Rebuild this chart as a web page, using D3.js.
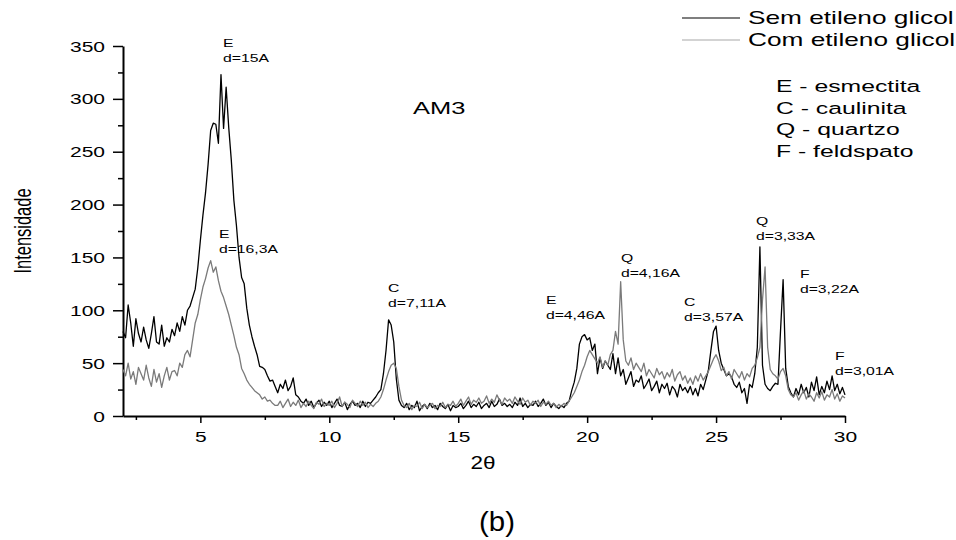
<!DOCTYPE html>
<html>
<head>
<meta charset="utf-8">
<script src="https://cdn.jsdelivr.net/npm/d3@7"></script>
<style>
  body { margin: 0; background: #fff; }
  text { font-family: Arial, "Liberation Sans", sans-serif; fill: #000; }
</style>
</head>
<body>
<div id="chart-area"></div>
<script>
// 2-theta sampling of the two patterns
const thetaStart = 2;
const thetaStep = 0.1;

// Sem etileno glicol (black), one value per 0.1 deg from 2.0 to 30.0
const semEtileno = [
  80, 74, 105, 88, 66, 92, 78, 70, 84, 72,
  64, 78, 94, 70, 68, 86, 66, 74, 70, 82,
  76, 88, 80, 94, 86, 100, 104, 112, 120, 140,
  166, 190, 211, 238, 270, 277, 276, 258, 323, 272,
  311, 273, 242, 204, 180, 150, 131, 125, 102, 86,
  75, 66, 58, 47, 46, 44, 38, 33, 34, 28,
  22, 30, 26, 34, 24, 28, 36, 20, 18, 14,
  12, 16, 10, 14, 8, 12, 15, 9, 13, 10,
  14, 8, 12, 16, 10, 9, 13, 6, 11, 14,
  10, 12, 8, 14, 9, 13, 12, 15, 18, 22,
  25, 40, 62, 91, 86, 70, 35, 15, 10, 8,
  12, 6, 10, 8, 14, 5, 9, 11, 7, 12,
  8, 10, 6, 12, 9, 7, 11, 5, 10, 8,
  9, 12, 7, 10, 14, 8, 11, 9, 13, 7,
  10, 12, 8, 14, 9, 11, 16, 10, 12, 9,
  11, 8, 13, 10, 17, 9, 12, 8, 11, 10,
  14, 9, 12, 16, 10, 13, 8, 12, 9, 7,
  10, 8, 12, 14, 24, 32, 45, 68, 75, 77,
  72, 74, 62, 68, 40, 55, 45, 52, 48, 44,
  59, 40, 55, 38, 44, 30, 36, 42, 28, 34,
  32, 38, 26, 30, 35, 24, 28, 33, 22, 30,
  26, 31, 20, 28, 25, 18, 30, 24, 27, 22,
  28, 20, 26, 19, 30, 25, 34, 43, 62, 80,
  85, 62, 50, 44, 38, 40, 37, 30, 27, 32,
  22, 26, 12, 30, 27, 40, 65, 160, 48, 30,
  26, 24, 28, 31, 30, 81, 129, 45, 28, 22,
  18, 26, 20, 30, 22, 27, 18, 32, 24, 37,
  20, 28, 22, 33, 25, 38, 24, 30, 21, 27,
  20
];

// Com etileno glicol (gray)
const comEtileno = [
  44, 38, 50, 35, 42, 30, 46, 40, 34, 48,
  36, 28, 44, 32, 40, 27, 38, 46, 34, 42,
  43, 38, 50, 46, 58, 62, 56, 72, 88, 96,
  110, 122, 130, 140, 147, 136, 141, 128, 118, 112,
  104, 96, 86, 76, 65, 58, 45, 40, 34, 30,
  27, 24, 22, 20, 16, 18, 14, 15, 12, 10,
  10, 14, 8, 12, 16, 9, 13, 10, 15, 8,
  12, 9, 14, 10, 7, 13, 11, 16, 9, 12,
  10, 14, 8, 12, 18, 9, 13, 11, 8, 15,
  12, 9, 14, 10, 13, 8, 11, 9, 12, 14,
  18, 25, 34, 42, 48, 50, 45, 28, 15, 10,
  8, 12, 6, 10, 9, 13, 7, 11, 8, 10,
  12, 7, 10, 9, 13, 8, 11, 10, 14, 9,
  12, 16, 10, 14, 18, 11, 15, 13, 17, 12,
  14, 19, 12, 16, 13, 20, 15, 11, 17, 14,
  16, 12, 18, 14, 11, 17, 13, 15, 10, 14,
  12, 15, 9, 13, 11, 14, 10, 12, 8, 11,
  9, 12, 10, 14, 18, 22, 28, 34, 42, 48,
  56, 62, 58, 54, 50, 56, 46, 52, 48, 58,
  62, 80, 68, 127, 72, 52, 48, 55, 44, 50,
  46, 42, 50, 38, 44, 40, 36, 45, 39, 42,
  35, 41, 37, 44, 33, 39, 42, 34, 38, 31,
  36, 30, 38, 33, 40, 34, 38, 42, 48, 54,
  58, 52, 43, 46, 38, 42, 35, 44, 40, 36,
  42, 34, 40, 37, 45, 48, 55, 65, 110, 141,
  65, 44, 40, 38, 35, 42, 45, 38, 25, 20,
  18, 22, 15, 20, 24, 16, 21, 18, 14, 22,
  17, 23, 15, 20, 18, 25, 16, 21, 14, 19,
  17
];

const seriesNames = ['Sem etileno glicol', 'Com etileno glicol'];
const xMajorTicks = [5, 10, 15, 20, 25, 30];
const xMinorTicks = [2.5, 7.5, 12.5, 17.5, 22.5, 27.5];
const yMajorTicks = [0, 50, 100, 150, 200, 250, 300, 350];
const yMinorTicks = [25, 75, 125, 175, 225, 275, 325];
const mineralKey = ['E - esmectita', 'C - caulinita', 'Q - quartzo', 'F - feldspato'];

// peak labels: mineral, spacing, anchor (2theta, intensity)
const peakLabels = [
  { m: 'E', d: 'd=15A', t: 5.88, v: 349 },
  { m: 'E', d: 'd=16,3A', t: 5.72, v: 168 },
  { m: 'C', d: 'd=7,11A', t: 12.28, v: 117 },
  { m: 'E', d: 'd=4,46A', t: 18.40, v: 106 },
  { m: 'Q', d: 'd=4,16A', t: 21.31, v: 146 },
  { m: 'C', d: 'd=3,57A', t: 23.76, v: 104 },
  { m: 'Q', d: 'd=3,33A', t: 26.55, v: 181 },
  { m: 'F', d: 'd=3,22A', t: 28.25, v: 131 },
  { m: 'F', d: 'd=3,01A', t: 29.61, v: 53 }
];

// the figure text is stretched sideways
const SX = 1.5;
const stretch = (x, y, s = SX) => `translate(${x},${y}) scale(${s},1)`;

const width = 956, height = 540;
const x = d3.scaleLinear().domain([2, 30]).range([123, 845]);
const y = d3.scaleLinear().domain([0, 350]).range([416, 46]);

const svg = d3.select('#chart-area')
  .append('svg')
  .attr('width', width)
  .attr('height', height);

// axes
const xAxis = svg.append('g')
  .attr('transform', 'translate(0,' + y(0) + ')')
  .call(d3.axisBottom(x).tickValues(xMajorTicks).tickSize(7).tickSizeOuter(0));
svg.append('g')
  .attr('transform', 'translate(0,' + y(0) + ')')
  .call(d3.axisBottom(x).tickValues(xMinorTicks).tickSize(4).tickSizeOuter(0).tickFormat(''))
  .select('.domain').remove();

const yAxis = svg.append('g')
  .attr('transform', 'translate(' + x(2) + ',0)')
  .call(d3.axisLeft(y).tickValues(yMajorTicks).tickSize(10).tickSizeOuter(0));
svg.append('g')
  .attr('transform', 'translate(' + x(2) + ',0)')
  .call(d3.axisLeft(y).tickValues(yMinorTicks).tickSize(5).tickSizeOuter(0).tickFormat(''))
  .select('.domain').remove();

svg.selectAll('.domain').attr('stroke', '#000').attr('stroke-width', 2);
svg.selectAll('.tick line').attr('stroke', '#000').attr('stroke-width', 1.5);

xAxis.selectAll('.tick text')
  .attr('x', null).attr('y', null).attr('dy', null)
  .attr('transform', stretch(0, 26))
  .style('font-size', '14px')
  .style('font-family', 'Arial, "Liberation Sans", sans-serif');

yAxis.selectAll('.tick text')
  .attr('x', null).attr('dy', null)
  .attr('transform', stretch(-18, 5))
  .style('font-size', '14px')
  .style('font-family', 'Arial, "Liberation Sans", sans-serif');

// curves
const line = d3.line()
  .x((d, i) => x(thetaStart + i * thetaStep))
  .y(d => y(d));

svg.append('path')
  .datum(semEtileno)
  .attr('fill', 'none')
  .attr('stroke', '#000')
  .attr('stroke-width', 1.3)
  .attr('stroke-linejoin', 'round')
  .attr('d', line);

svg.append('path')
  .datum(comEtileno)
  .attr('fill', 'none')
  .attr('stroke', '#7a7a7a')
  .attr('stroke-width', 1.3)
  .attr('stroke-linejoin', 'round')
  .attr('d', line);

// axis titles
svg.append('text')
  .attr('transform', 'translate(31,231) scale(1.5,1) rotate(-90)')
  .attr('text-anchor', 'middle')
  .style('font-size', '16.5px')
  .text('Intensidade');

svg.append('text')
  .attr('transform', stretch(483, 469, 1.25))
  .attr('text-anchor', 'middle')
  .style('font-size', '18px')
  .text('2θ');

svg.append('text')
  .attr('transform', stretch(497, 531, 1.05))
  .attr('text-anchor', 'middle')
  .style('font-size', '28px')
  .text('(b)');

// sample name
svg.append('text')
  .attr('transform', stretch(413, 114))
  .style('font-size', '17px')
  .text('AM3');

// legend
const legendColors = ['#555', '#c4c4c4'];
seriesNames.forEach((name, i) => {
  const ly = 18 + i * 22;
  svg.append('line')
    .attr('x1', 682).attr('x2', 740)
    .attr('y1', ly).attr('y2', ly)
    .attr('stroke', legendColors[i])
    .attr('stroke-width', 1.5);
  svg.append('text')
    .attr('transform', stretch(748, ly + 6))
    .style('font-size', '17.5px')
    .text(name);
});

// mineral key
mineralKey.forEach((s, i) => {
  svg.append('text')
    .attr('transform', stretch(776, 92 + i * 21.7))
    .style('font-size', '16.5px')
    .text(s);
});

// peak labels
peakLabels.forEach(p => {
  const g = svg.append('g')
    .attr('transform', 'translate(' + x(p.t) + ',' + y(p.v) + ')');
  g.append('text')
    .attr('transform', 'scale(1.5,1)')
    .style('font-size', '10.5px')
    .text(p.m);
  g.append('text')
    .attr('transform', 'translate(0,15) scale(1.5,1)')
    .style('font-size', '10.5px')
    .text(p.d);
});
</script>
</body>
</html>
